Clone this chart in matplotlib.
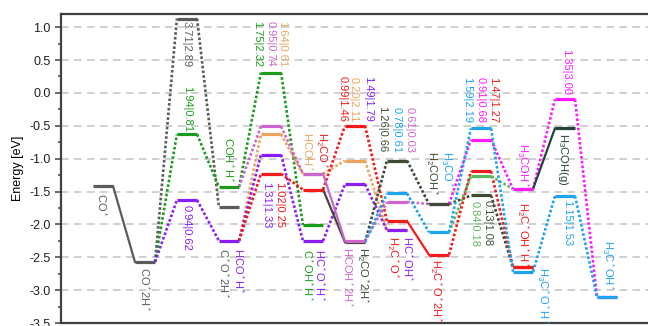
import matplotlib
matplotlib.use("Agg")
import matplotlib.pyplot as plt
from matplotlib.ticker import MultipleLocator, AutoMinorLocator, FormatStrFormatter

plt.rcParams["font.family"] = ["Liberation Sans", "DejaVu Sans"]
plt.rcParams["mathtext.default"] = "regular"
plt.rcParams["axes.unicode_minus"] = False

GRAY = "#5b5b5b"
GREEN = "#1c9c1c"
PURPLE = "#8a1cf5"
ORANGE = "#eba45e"
PINK = "#cc66cc"
RED = "#f21a1a"
OLIVE = "#3e4a34"
BLUE = "#1fa4ee"
MAGENTA = "#ff1aff"
LGREEN = "#5cb85c"
TEAL = "#26423e"

# each route: columns and energies (eV); the first state belongs to the previous route
co_cols, co_e = [0, 1], [-1.42, -2.57]
gray_cols, gray_e = [1, 2, 3], [-2.57, 1.13, -1.74]
green_cols, green_e = [1, 2, 3, 4, 5], [-2.57, -0.63, -1.43, 0.31, -2.01]
purple_cols = [1, 2, 3, 4, 5, 6, 7]
purple_e = [-2.57, -1.63, -2.25, -0.94, -2.25, -1.39, -2.09]
orange_cols, orange_e = [3, 4, 5, 6, 7], [-2.25, -0.63, -1.23, -1.03, -2.09]
pink_cols, pink_e = [3, 4, 5], [-1.43, -0.51, -1.23]
pink2_cols, pink2_e = [5, 6], [-1.23, -2.25]
pink3_cols, pink3_e = [6, 7, 8], [-2.25, -1.66, -1.69]
red_cols, red_e = [3, 4, 5, 6, 7], [-2.25, -1.23, -1.47, -0.50, -1.95]
red2_cols, red2_e = [7, 8], [-1.95, -2.46]
red3_cols, red3_e = [8, 9, 10], [-2.46, -1.19, -2.65]
olive_cols, olive_e = [5, 6], [-1.47, -2.27]
olive2_cols, olive2_e = [6, 7, 8], [-2.27, -1.03, -1.69]
olive3_cols, olive3_e = [8, 9, 10], [-1.69, -1.56, -2.65]
blue_cols, blue_e = [6, 7, 8], [-2.27, -1.53, -2.12]
blue2_cols, blue2_e = [8, 9, 10, 11, 12], [-2.12, -0.54, -2.72, -1.57, -3.10]
mag_cols, mag_e = [8, 9, 10, 11, 12], [-1.69, -0.71, -1.46, -0.10, -3.10]
lgreen_cols, lgreen_e = [8, 9, 10], [-2.12, -1.27, -1.46]
teal_cols, teal_e = [10, 11], [-1.46, -0.54]

# (cols, energies, color, dotted, draw bar for first state)
# later routes are drawn on top where states coincide
routes = [
    (co_cols, co_e, GRAY, False, True),
    (gray_cols, gray_e, GRAY, True, False),
    (green_cols, green_e, GREEN, True, False),
    (orange_cols, orange_e, ORANGE, True, False),
    (purple_cols, purple_e, PURPLE, True, False),
    (pink_cols, pink_e, PINK, True, False),
    (red_cols, red_e, RED, True, False),
    (olive_cols, olive_e, OLIVE, False, False),
    (pink2_cols, pink2_e, PINK, False, False),
    (pink3_cols, pink3_e, PINK, True, False),
    (olive2_cols, olive2_e, OLIVE, True, False),
    (blue_cols, blue_e, BLUE, True, False),
    (red2_cols, red2_e, RED, False, False),
    (olive3_cols, olive3_e, OLIVE, True, False),
    (red3_cols, red3_e, RED, True, False),
    (lgreen_cols, lgreen_e, LGREEN, True, False),
    (mag_cols, mag_e, MAGENTA, True, False),
    (blue2_cols, blue2_e, BLUE, True, False),
    (teal_cols, teal_e, TEAL, False, False),
]

lab_text = [
    "CO$^*$", "CO$^*$2H$^*$", "3.71|2.89", "1.94|0.81", "0.94|0.62",
    "COH$^*$H$^*$", "C$^*$O$^*$2H$^*$", "HCO$^*$H$^*$",
    "1.75|2.32", "0.95|0.74", "1.64|0.61", "1.31|1.33", "1.02|0.25",
    "HCOH$^*$", "H$_2$CO$^*$", "C$^*$OH$^*$H$^*$", "HC$^*$O$^*$H$^*$",
    "0.99|1.46", "0.20|2.11", "1.49|1.79",
    "HCOH$^*$2H$^*$", "H$_2$CO$^*$2H$^*$",
    "1.26|0.66", "0.78|0.61", "0.61|0.03",
    "H$_2$C$^*$O$^*$", "HC$^*$OH$^*$", "H$_2$COH$^*$", "H$_3$CO$^*$",
    "H$_2$C$^*$O$^*$2H$^*$", "0.84|0.18", "0.13|1.08",
    "1.59|2.19", "0.91|0.68", "1.47|1.27",
    "H$_3$COH$^*$", "H$_2$C$^*$OH$^*$H$^*$", "H$_3$C$^*$O$^*$H$^*$",
    "1.35|3.00", "H$_3$COH(g)", "1.15|1.53", "H$_3$C$^*$OH$^*$",
]
lab_color = [
    GRAY, GRAY, GRAY, GREEN, PURPLE,
    GREEN, GRAY, PURPLE,
    GREEN, PINK, ORANGE, PURPLE, RED,
    ORANGE, RED, GREEN, PURPLE,
    RED, ORANGE, PURPLE,
    PINK, OLIVE,
    OLIVE, BLUE, PINK,
    RED, PURPLE, OLIVE, BLUE,
    RED, LGREEN, OLIVE,
    BLUE, MAGENTA, RED,
    MAGENTA, RED, BLUE,
    MAGENTA, TEAL, BLUE, BLUE,
]
lab_x = [
    -0.03, 1.0, 2.0, 2.0, 2.0,
    3.0, 2.87, 3.23,
    3.68, 3.99, 4.27, 3.88, 4.19,
    4.88, 5.2, 4.87, 5.17,
    5.7, 5.96, 6.3,
    5.82, 6.18,
    6.65, 6.98, 7.29,
    6.9, 7.25, 7.82, 8.18,
    7.93, 8.85, 9.15,
    8.68, 8.99, 9.29,
    9.99, 9.99, 10.46,
    11.02, 10.96, 11.06, 12.02,
]
lab_y = [
    -1.52, -2.65, 1.10, -0.59, -1.71,
    -1.36, -2.36, -2.36,
    1.09, 1.09, 1.09, -1.36, -1.36,
    -0.60, -0.60, -2.38, -2.38,
    -0.44, -0.44, -0.44,
    -2.34, -2.34,
    -0.91, -0.91, -0.91,
    -2.18, -2.18, -0.88, -0.88,
    -2.52, -1.65, -1.63,
    -0.46, -0.46, -0.46,
    -0.76, -1.66, -2.65,
    -0.03, -0.61, -1.63, -3.0,
]
lab_va = [
    "top", "top", "top", "bottom", "top",
    "bottom", "top", "top",
    "top", "top", "top", "top", "top",
    "top", "top", "top", "top",
    "bottom", "bottom", "bottom",
    "top", "top",
    "bottom", "bottom", "bottom",
    "top", "top", "top", "top",
    "top", "top", "top",
    "bottom", "bottom", "bottom",
    "top", "top", "top",
    "bottom", "top", "top", "bottom",
]

hw = 0.24

fig = plt.figure(figsize=(6.48, 3.26), dpi=100)
ax = fig.add_axes([61 / 648, 3 / 326, 609 / 648, 309 / 326])

for cols, es, color, dotted, first_bar in routes:
    for i in range(len(cols) - 1):
        x0, x1 = cols[i] + hw, cols[i + 1] - hw
        if dotted:
            ax.plot([x0, x1], [es[i], es[i + 1]], color=color, lw=1.9,
                    dashes=(1, 0.8), solid_capstyle="butt", zorder=2)
        else:
            ax.plot([x0, x1], [es[i], es[i + 1]], color=color, lw=1.6, zorder=2)
    start = 0 if first_bar else 1
    for c, e in zip(cols[start:], es[start:]):
        ax.plot([c - hw, c + hw], [e, e], color=color, lw=2.3,
                solid_capstyle="butt", zorder=3)

for t, x, y, c, va in zip(lab_text, lab_x, lab_y, lab_color, lab_va):
    ax.text(x, y, t, color=c, fontsize=8, rotation=270,
            ha="center", va=va, zorder=4)

ax.set_xlim(-1, 13.5)
ax.set_ylim(-3.5, 1.2)
ax.set_xticks([])
ax.yaxis.set_major_locator(MultipleLocator(0.5))
ax.yaxis.set_minor_locator(AutoMinorLocator(2))
ax.yaxis.set_major_formatter(FormatStrFormatter("%.1f"))
ax.tick_params(axis="y", which="major", direction="out", length=4, width=1.1,
               color="#404040", labelsize=9, labelcolor="#202020")
ax.tick_params(axis="y", which="minor", direction="out", length=2.5, width=1.1,
               color="#404040")
ax.set_ylabel("Energy [eV]", fontsize=9, labelpad=4)
for s in ax.spines.values():
    s.set_color("#404040")
    s.set_linewidth(1.6)

for g in [1.0, 0.5, 0.0, -0.5, -1.0, -1.5, -2.0, -2.5, -3.0]:
    ax.axhline(g, color="#c4c4c4", lw=1.1, dashes=(5, 3.5), zorder=1)

fig.savefig("out.png", dpi=100)
